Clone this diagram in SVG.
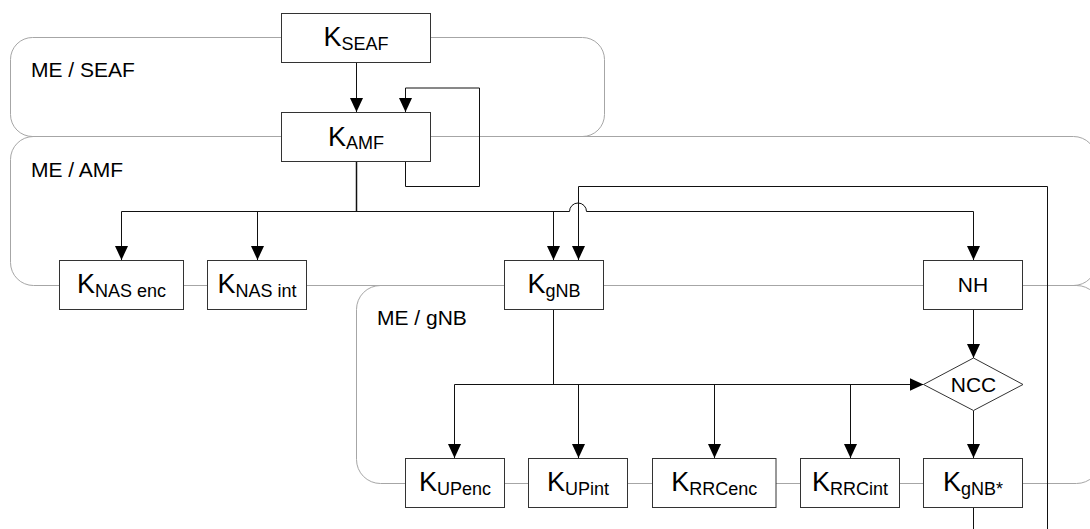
<svg xmlns="http://www.w3.org/2000/svg" width="1090" height="529" viewBox="0 0 1090 529">
<style>
  .region { fill: none; stroke: #a6a6a6; stroke-width: 1; }
  .rlabel { font-family: "Liberation Sans", Arial, sans-serif; font-size: 21px; fill: #000; }
  .box { fill: #fff; stroke: #333; stroke-width: 1; }
  .k { font-family: "Liberation Sans", Arial, sans-serif; font-size: 27px; fill: #000; text-anchor: middle; }
  .sub { font-size: 18px; }
  .lbl { font-family: "Liberation Sans", Arial, sans-serif; font-size: 21px; fill: #000; text-anchor: middle; }
  .conn { fill: none; stroke: #111; stroke-width: 1; }
  .arr { marker-end: url(#ah); }
</style>
<defs>
  <marker id="ah" markerUnits="userSpaceOnUse" markerWidth="14" markerHeight="13" refX="14" refY="6.5" orient="auto">
    <path d="M0,0 L14,6.5 L0,13 z" fill="#000"/>
  </marker>
</defs>
<rect width="1090" height="529" fill="#fff"/>

<g id="regions">
  <g id="region-me-seaf">
    <rect class="region" x="10.5" y="37.5" width="594" height="99" rx="22" ry="22"/>
    <text class="rlabel" x="31" y="77">ME / SEAF</text>
  </g>
  <g id="region-me-amf">
    <rect class="region" x="10.5" y="136.5" width="1086" height="149" rx="23" ry="23"/>
    <text class="rlabel" x="31" y="177">ME / AMF</text>
  </g>
  <g id="region-me-gnb">
    <rect class="region" x="356.5" y="285.5" width="744" height="198" rx="24" ry="24"/>
    <text class="rlabel" x="377" y="325">ME / gNB</text>
  </g>
</g>

<g id="connectors">
  <path class="conn arr" d="M356.5,62.5 V112"/>
  <path class="conn arr" d="M405.5,161.5 V186.5 H479.5 V88 H405.5 V112"/>
  <path class="conn" style="stroke-width:1.5" d="M356.5,161.5 V211.5"/>
  <path class="conn" d="M121.5,211.5 H569.5 A8.5,8.5 0 0 1 586.5,211.5 H973.5"/>
  <path class="conn arr" d="M121.5,211.5 V260"/>
  <path class="conn arr" d="M257.5,211.5 V260"/>
  <path class="conn arr" d="M553.5,211.5 V260"/>
  <path class="conn arr" d="M973.5,211.5 V260"/>
  <path class="conn arr" d="M973.5,508 V540 H1047.5 V186.5 H578.5 V260"/>
  <path class="conn" d="M553.5,310 V384.5"/>
  <path class="conn arr" d="M454.5,384.5 H923.5"/>
  <path class="conn arr" d="M454.5,384.5 V458"/>
  <path class="conn arr" d="M578.5,384.5 V458"/>
  <path class="conn arr" d="M714.5,384.5 V458"/>
  <path class="conn arr" d="M850.5,384.5 V458"/>
  <path class="conn arr" d="M973.5,310 V358"/>
  <path class="conn arr" d="M973.5,410.5 V458"/>
</g>

<g id="node-kseaf">
  <rect class="box" x="281.5" y="13.5" width="149" height="49"/>
  <text class="k" x="356" y="46">K<tspan class="sub" dy="3.8">SEAF</tspan></text>
</g>
<g id="node-kamf">
  <rect class="box" x="281.5" y="112.5" width="149" height="49"/>
  <text class="k" x="356" y="145.5">K<tspan class="sub" dy="3.8">AMF</tspan></text>
</g>
<g id="node-knasenc">
  <rect class="box" x="59.5" y="260.5" width="124" height="49"/>
  <text class="k" x="121.5" y="293.3">K<tspan class="sub" dy="3.6">NAS enc</tspan></text>
</g>
<g id="node-knasint">
  <rect class="box" x="207.5" y="260.5" width="99" height="49"/>
  <text class="k" x="257" y="293.3">K<tspan class="sub" dy="3.6">NAS int</tspan></text>
</g>
<g id="node-kgnb">
  <rect class="box" x="504.5" y="260.5" width="99" height="49"/>
  <text class="k" x="554" y="293.3">K<tspan class="sub" dy="3.6">gNB</tspan></text>
</g>
<g id="node-nh">
  <rect class="box" x="923.5" y="260.5" width="99" height="49"/>
  <text class="lbl" x="973" y="292">NH</text>
</g>
<g id="node-ncc">
  <polygon class="box" points="923.5,384.5 973.5,358 1023,384.5 973.5,410.5"/>
  <text class="lbl" x="973.5" y="391.5">NCC</text>
</g>
<g id="node-kupenc">
  <rect class="box" x="405.5" y="458.5" width="99" height="49"/>
  <text class="k" x="455" y="491.3">K<tspan class="sub" dy="3.6">UPenc</tspan></text>
</g>
<g id="node-kupint">
  <rect class="box" x="528.5" y="458.5" width="99" height="49"/>
  <text class="k" x="578" y="491.3">K<tspan class="sub" dy="3.6">UPint</tspan></text>
</g>
<g id="node-krrcenc">
  <rect class="box" x="652.5" y="458.5" width="123.5" height="49"/>
  <text class="k" x="714.3" y="491.3">K<tspan class="sub" dy="3.6">RRCenc</tspan></text>
</g>
<g id="node-krrcint">
  <rect class="box" x="800.5" y="458.5" width="99" height="49"/>
  <text class="k" x="850" y="491.3">K<tspan class="sub" dy="3.6">RRCint</tspan></text>
</g>
<g id="node-kgnbstar">
  <rect class="box" x="923.5" y="458.5" width="99" height="49"/>
  <text class="k" x="973" y="491.3">K<tspan class="sub" dy="3.6">gNB*</tspan></text>
</g>
</svg>
